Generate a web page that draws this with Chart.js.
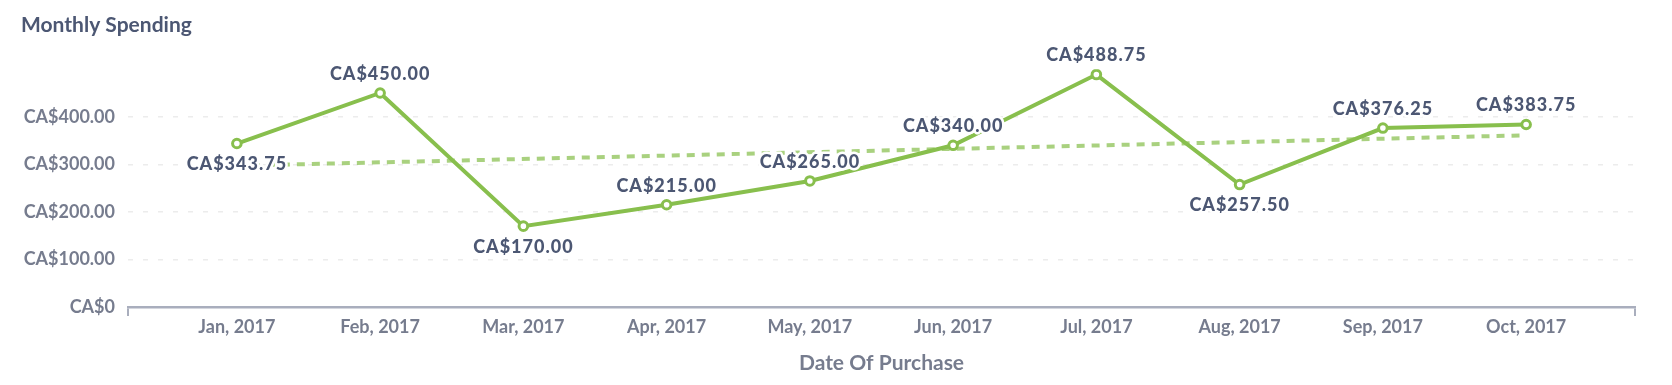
<!DOCTYPE html>
<html>
<head>
<meta charset="utf-8">
<script src="https://cdn.jsdelivr.net/npm/chart.js@4/dist/chart.umd.min.js"></script>
<style>
  html,body{margin:0;padding:0;background:#fff;}
  #wrap{width:1672px;height:385px;}
</style>
</head>
<body>
<div id="wrap"><canvas id="spend-chart"></canvas></div>
<script>
const MONTHS = ["Jan, 2017","Feb, 2017","Mar, 2017","Apr, 2017","May, 2017",
                "Jun, 2017","Jul, 2017","Aug, 2017","Sep, 2017","Oct, 2017"];
const SPENDING = [343.75, 450.00, 170.00, 215.00, 265.00, 340.00, 488.75, 257.50, 376.25, 383.75];
// trend line: start (Jan) and end (Oct)
const TREND = [297, null, null, null, null, null, null, null, null, 361];
const Y_TICKS = [0, 100, 200, 300, 400];

const GREEN = "#88bf4d";
const LABEL_COLOR = "#4c5773";
const AXIS_COLOR = "#767c8e";
const X_PAD = 0.76;

const money = v => v === 0 ? "CA$0" : "CA$" + v.toFixed(2);

const dataLabels = {
  id: "dataLabels",
  afterDatasetsDraw(chart) {
    const meta = chart.getDatasetMeta(0);
    const ctx = chart.ctx;
    ctx.save();
    ctx.font = "900 18px Lato";
    ctx.letterSpacing = "1px";
    ctx.textAlign = "center";
    ctx.textBaseline = "middle";
    ctx.lineJoin = "round";
    meta.data.forEach((pt, i) => {
      const v = SPENDING[i];
      const prev = i > 0 ? SPENDING[i-1] : Infinity;
      const next = i < SPENDING.length-1 ? SPENDING[i+1] : Infinity;
      const below = v < prev && v < next;
      const y = below ? pt.y + 21 : pt.y - 19;
      const t = money(v);
      ctx.strokeStyle = "#fff";
      ctx.lineWidth = 5;
      ctx.strokeText(t, pt.x, y);
      ctx.fillStyle = LABEL_COLOR;
      ctx.fillText(t, pt.x, y);
    });
    ctx.restore();
  }
};

new Chart(document.getElementById("spend-chart"), {
  type: "line",
  data: {
    datasets: [
      {
        data: SPENDING.map((v,i)=>({x:i,y:v})),
        borderColor: GREEN, borderWidth: 4, tension: 0,
        pointRadius: 4.3, pointBorderWidth: 3, pointBackgroundColor: "#fff",
        pointBorderColor: GREEN, order: 0,
      },
      {
        data: TREND.map((v,i)=>({x:i,y:v})),
        borderColor: "rgba(136,191,77,0.72)", borderWidth: 4, borderDash: [8,7],
        pointRadius: 0, spanGaps: true, tension: 0, order: 1,
      },
    ],
  },
  options: {
    responsive: true, maintainAspectRatio: false, animation: false,
    layout: {padding: {left: 21, right: 37, top: 0, bottom: 0}},
    plugins: {
      legend: {display: false},
      tooltip: {enabled: false},
      title: {
        display: true, text: "Monthly Spending", align: "start", color: LABEL_COLOR,
        font: {family: "Lato", size: 21, weight: "bold"},
        padding: {top: 13, bottom: 31},
      },
    },
    scales: {
      x: {
        type: "linear", min: -X_PAD, max: MONTHS.length - 1 + X_PAD,
        afterBuildTicks: s => {
          s.ticks = [{value: -X_PAD}, ...MONTHS.map((_,i)=>({value:i})), {value: MONTHS.length - 1 + X_PAD}];
        },
        afterFit: s => { s.height = 78; },
        ticks: {
          autoSkip: false, maxRotation: 0, padding: 0, color: AXIS_COLOR,
          font: {family: "Lato", size: 18, weight: "bold"},
          callback: v => Number.isInteger(v) ? MONTHS[v] : "",
        },
        grid: {
          drawOnChartArea: false, drawTicks: true, tickLength: 9, lineWidth: 2,
          color: c => (c.tick && Number.isInteger(c.tick.value)) ? "rgba(0,0,0,0)" : "#a9aebd",
        },
        border: {display: true, color: "#a9aebd", width: 2.5},
        title: {
          display: true, text: "Date Of Purchase", color: AXIS_COLOR,
          font: {family: "Lato", size: 21, weight: "bold"},
          padding: {top: 0, bottom: 9},
        },
      },
      y: {
        min: 0, max: 500,
        afterBuildTicks: s => { s.ticks = Y_TICKS.map(v=>({value:v})); },
        afterFit: s => { s.width = 107; },
        ticks: {
          padding: 13, color: AXIS_COLOR,
          font: {family: "Lato", size: 18, weight: "bold"},
          callback: v => money(v),
        },
        grid: {
          drawTicks: false, lineWidth: 1.5,
          color: c => (c.tick && c.tick.value === 0) ? "rgba(0,0,0,0)" : "#ececec",
        },
        border: {display: false, dash: [5,10]},
      },
    },
  },
  plugins: [dataLabels],
});
</script>
</body>
</html>
